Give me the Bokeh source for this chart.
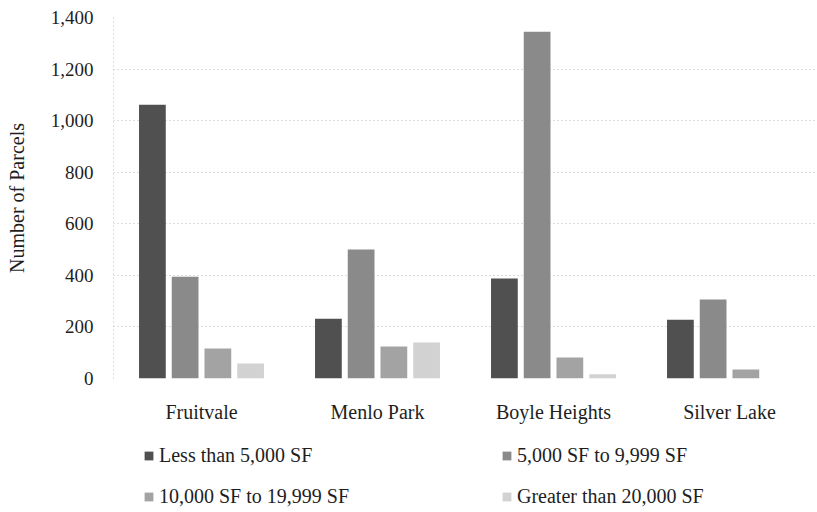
from bokeh.plotting import figure
from bokeh.layouts import column
from bokeh.models import Legend, LegendItem, NumeralTickFormatter, FixedTicker, Range1d
from bokeh.transform import dodge
from bokeh.embed import file_html
from bokeh.resources import INLINE

neighborhoods = ["Fruitvale", "Menlo Park", "Boyle Heights", "Silver Lake"]
series_names = ["Less than 5,000 SF", "5,000 SF to 9,999 SF",
                "10,000 SF to 19,999 SF", "Greater than 20,000 SF"]
less_than_5000 = [1062, 232, 388, 228]
sf_5000_to_9999 = [395, 500, 1345, 306]
sf_10000_to_19999 = [116, 124, 81, 35]
greater_than_20000 = [58, 140, 16, 0]
y_ticks = [0, 200, 400, 600, 800, 1000, 1200, 1400]

series_values = [less_than_5000, sf_5000_to_9999, sf_10000_to_19999, greater_than_20000]
colors = ["#505050", "#8a8a8a", "#a3a3a3", "#d2d2d2"]
offsets = [-0.279, -0.093, 0.093, 0.279]

FONT = "Liberation Serif"
TXT = "#1e1e1e"

p = figure(x_range=neighborhoods, y_range=(0, 1400), width=817, height=440,
           output_backend="svg", toolbar_location=None,
           min_border_left=113, min_border_right=0, min_border_top=17,
           min_border_bottom=62)

data = {"cat": neighborhoods}
for i, vals in enumerate(series_values):
    data[f"s{i}"] = vals

for i, name in enumerate(series_names):
    p.vbar(x=dodge("cat", offsets[i], range=p.x_range), top=f"s{i}", width=0.152,
           source=data, fill_color=colors[i], line_color=None)

p.outline_line_color = None
p.xgrid.grid_line_color = None
p.ygrid.grid_line_color = "#b8b8b8"
p.ygrid.grid_line_dash = "1 3"
p.ygrid.ticker = FixedTicker(ticks=y_ticks)

p.yaxis.ticker = FixedTicker(ticks=y_ticks)
p.yaxis.formatter = NumeralTickFormatter(format="0,0")
p.yaxis.major_tick_line_color = None
p.yaxis.major_tick_out = 0
p.yaxis.major_tick_in = 0
p.yaxis.minor_tick_line_color = None
p.yaxis.axis_line_color = "#c0c0c0"
p.yaxis.axis_line_dash = "1 3"
p.yaxis.major_label_standoff = 20
p.yaxis.major_label_text_font = FONT
p.yaxis.major_label_text_font_size = "19px"
p.yaxis.major_label_text_color = TXT
p.yaxis.axis_label = "Number of Parcels"
p.yaxis.axis_label_text_font = FONT
p.yaxis.axis_label_text_font_size = "20px"
p.yaxis.axis_label_text_font_style = "normal"
p.yaxis.axis_label_text_color = TXT
p.yaxis.axis_label_standoff = 20

p.xaxis.major_tick_line_color = None
p.xaxis.major_tick_out = 0
p.xaxis.major_tick_in = 0
p.xaxis.minor_tick_line_color = None
p.xaxis.axis_line_color = None
p.xaxis.major_label_standoff = 22
p.xaxis.major_label_text_font = FONT
p.xaxis.major_label_text_font_size = "20px"
p.xaxis.major_label_text_color = TXT

# legend panel: the same series as zero-width bars outside the view range,
# so that only their legend swatches are drawn
lp = figure(x_range=neighborhoods, y_range=Range1d(2000, 2001), width=817, height=72,
            output_backend="svg", toolbar_location=None,
            min_border=0, x_axis_location=None, y_axis_location=None)
lp.outline_line_color = None
lp.grid.visible = False
items = []
for i, name in enumerate(series_names):
    r = lp.vbar(x="cat", top=f"s{i}", width=0, source=data,
                fill_color=colors[i], line_color=None)
    items.append(LegendItem(label=name, renderers=[r]))

legend_items = [items[0], items[2], items[1], items[3]]
legend = Legend(items=legend_items, ncols=2, location=(30, 4),
                glyph_width=11, glyph_height=11, label_standoff=5,
                label_width=324, label_height=22, spacing=18,
                padding=0, margin=0, border_line_color=None,
                label_text_font=FONT, label_text_font_size="20px",
                label_text_color=TXT, background_fill_alpha=0)
lp.add_layout(legend, "center")

layout = column(p, lp, spacing=0)
open("out.html", "w").write(file_html(layout, INLINE))
